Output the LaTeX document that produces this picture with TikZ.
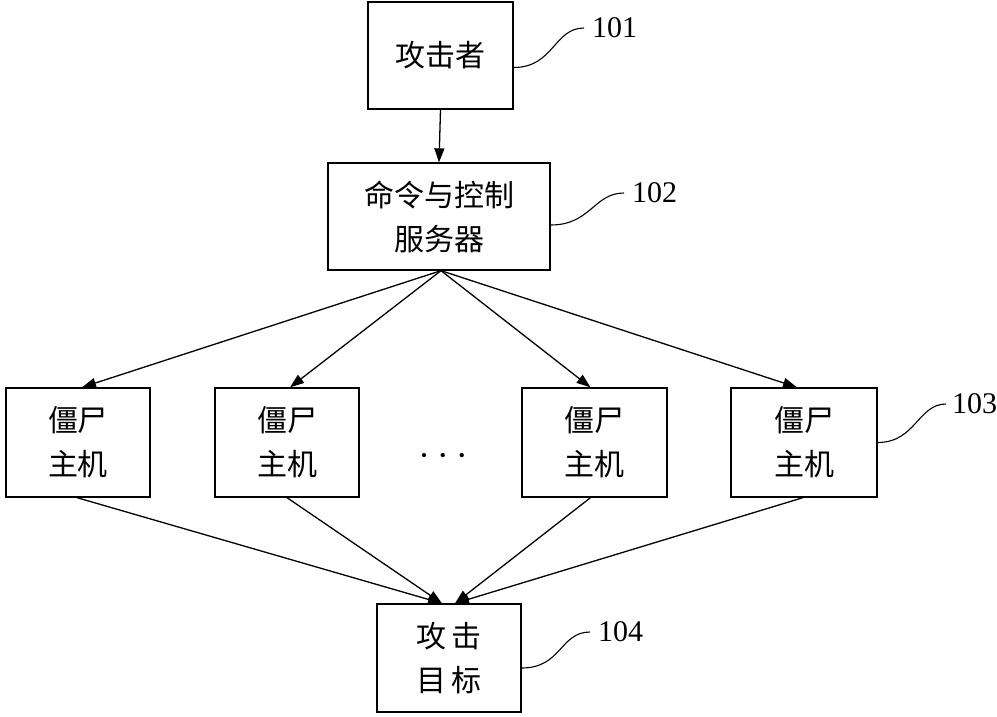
\documentclass[tikz,border=0pt]{standalone}
\usepackage{fontspec}
\newfontfamily\cjk{Noto Sans CJK SC}
\setmainfont{Liberation Serif}
\usetikzlibrary{arrows.meta}
\tikzset{
  box/.style={draw, line width=1.3pt, rectangle, inner sep=0pt, align=center,
    font=\cjk\fontsize{30}{44}\selectfont},
  arr/.style={line width=1.3pt, -{Triangle[length=14pt,width=10pt]}},
  lead/.style={line width=1.1pt},
  num/.style={anchor=west, inner sep=0pt, font=\fontsize{30}{30}\selectfont}
}
\begin{document}
\begin{tikzpicture}[x=1pt,y=-1pt]
\useasboundingbox (0,0) rectangle (997,716);
\node[box, minimum width=145pt, minimum height=107pt] (a) at (440.5,55.5) {攻击者};
\node[box, minimum width=222pt, minimum height=107pt] (b) at (439,216.5) {命令与控制\\服务器};
\node[box, minimum width=144pt, minimum height=109pt] (z1) at (78,442.5) {僵尸\\主机};
\node[box, minimum width=144pt, minimum height=109pt] (z2) at (287,442.5) {僵尸\\主机};
\node[box, minimum width=145pt, minimum height=109pt] (z3) at (594.5,442.5) {僵尸\\主机};
\node[box, minimum width=146pt, minimum height=109pt] (z4) at (804,442.5) {僵尸\\主机};
\node[box, minimum width=144pt, minimum height=108pt] (t) at (449,658) {攻\,击\\目\,标};
\node[inner sep=0pt, anchor=base, font=\fontsize{36}{36}\selectfont] (dots) at (443,467) {·\hspace{7pt}·\hspace{7pt}·};

\draw[arr] (a.south) -- (b.north);
\draw[arr] ([xshift=2pt]b.south) -- ([xshift=4pt]z1.north);
\draw[arr] ([xshift=2pt]b.south) -- ([xshift=3pt]z2.north);
\draw[arr] ([xshift=2pt]b.south) -- ([xshift=-4pt]z3.north);
\draw[arr] ([xshift=2pt]b.south) -- ([xshift=-7pt]z4.north);
\draw[arr] ([xshift=-1pt]z1.south) -- ([xshift=-7pt]t.north);
\draw[arr] (z2.south) -- ([xshift=-7pt]t.north);
\draw[arr] ([xshift=-4pt]z3.south) -- ([xshift=6pt]t.north);
\draw[arr] ([xshift=-1pt]z4.south) -- ([xshift=6pt]t.north);

\node[num] (n1) at (592,28) {101};
\node[num] (n2) at (632,193) {102};
\node[num] (n3) at (952,404) {103};
\node[num] (n4) at (598,632) {104};

\draw[lead] ([yshift=-12pt]a.east) .. controls +(40,0) and +(-30,0) .. ([xshift=-8pt]n1.west);
\draw[lead] ([yshift=-8.5pt]b.east) .. controls +(40,0) and +(-30,0) .. ([xshift=-8pt]n2.west);
\draw[lead] (z4.east) .. controls +(38,0) and +(-28,0) .. ([xshift=-6pt]n3.west);
\draw[lead] ([yshift=-10pt]t.east) .. controls +(40,0) and +(-30,0) .. ([xshift=-8pt]n4.west);
\end{tikzpicture}
\end{document}
